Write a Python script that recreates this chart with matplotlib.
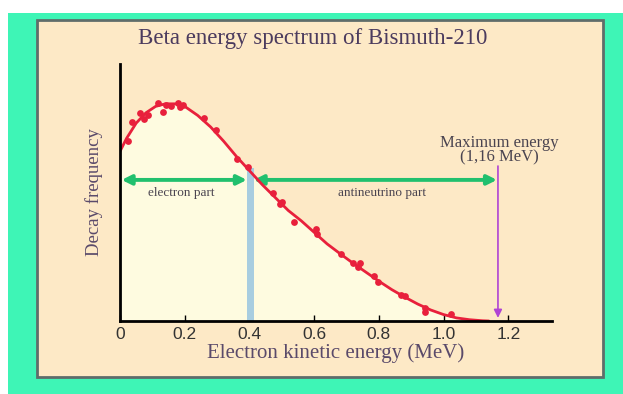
import matplotlib
matplotlib.use("Agg")
import matplotlib.pyplot as plt
from matplotlib.patches import Rectangle

# measured points (MeV, relative frequency)
pts_x = [0.025, 0.038, 0.061, 0.074, 0.087, 0.118, 0.133, 0.142, 0.157, 0.178,
         0.184, 0.196, 0.259, 0.296, 0.362, 0.397, 0.474, 0.501, 0.495, 0.538,
         0.605, 0.608, 0.683, 0.720, 0.741, 0.734, 0.784, 0.796, 0.867, 0.882,
         0.943, 0.941, 1.023]
pts_y = [0.700, 0.775, 0.808, 0.786, 0.800, 0.847, 0.815, 0.840, 0.837, 0.847,
         0.834, 0.840, 0.789, 0.743, 0.629, 0.600, 0.499, 0.464, 0.455, 0.386,
         0.358, 0.339, 0.261, 0.227, 0.224, 0.209, 0.175, 0.153, 0.101, 0.097,
         0.049, 0.036, 0.027]

# fitted curve
curve_x = [0.0, 0.02, 0.05, 0.08, 0.11, 0.14, 0.17, 0.20, 0.24, 0.28, 0.32,
           0.36, 0.40, 0.44, 0.48, 0.52, 0.56, 0.60, 0.64, 0.68, 0.72, 0.76,
           0.80, 0.84, 0.88, 0.92, 0.96, 1.00, 1.04, 1.08, 1.12, 1.14]
curve_y = [0.660, 0.710, 0.770, 0.810, 0.835, 0.845, 0.845, 0.835, 0.800,
           0.755, 0.700, 0.640, 0.585, 0.530, 0.480, 0.430, 0.390, 0.345,
           0.300, 0.262, 0.225, 0.190, 0.155, 0.122, 0.093, 0.066, 0.043,
           0.025, 0.012, 0.005, 0.001, 0.0]

xticks = [0, 0.2, 0.4, 0.6, 0.8, 1.0, 1.2]
xticklabels = ["0", "0.2", "0.4", "0.6", "0.8", "1.0", "1.2"]
e_split = 0.40     # electron / antineutrino split
e_max = 1.168      # maximum energy marker

W, H = 623, 394
serif = ["Liberation Serif", "DejaVu Serif"]
fig = plt.figure(figsize=(W / 100, H / 100), dpi=100, facecolor="white")

# green frame and beige panel, on a background axes
bg = fig.add_axes([0, 0, 1, 1], zorder=-1)
bg.set_xlim(0, W)
bg.set_ylim(H, 0)
bg.axis("off")
bg.add_patch(Rectangle((8, 13), W - 8, H - 13, facecolor="#3ef5b6", edgecolor="none"))
bg.add_patch(Rectangle((37, 20), 566, 357, facecolor="#fde9c6", edgecolor="#5f6d6a",
                       linewidth=2))
bg.text(313, 38, "Beta energy spectrum of Bismuth-210", family=serif, fontsize=16.5,
        color="#4b3b5e", ha="center", va="center")

ax = fig.add_axes([120 / W, 1 - 321 / H, 432 / W, 257 / H])
ax.set_facecolor("none")
ax.set_xlim(0, 1.335)
ax.set_ylim(0, 1)

ax.fill_between(curve_x, curve_y, 0, color="#fefbe0", lw=0, zorder=1)
ax.add_patch(Rectangle((e_split - 0.007, 0), 0.02, 0.594, facecolor="#a8cde0",
                       edgecolor="none", zorder=2))
ax.plot(curve_x, curve_y, color="#e8203c", lw=2, zorder=4, solid_capstyle="round")
ax.scatter(pts_x, pts_y, s=24, color="#e8203c", zorder=5, linewidths=0)

green = "#21c06e"
ax.annotate("", xy=(0.005, 0.549), xytext=(0.392, 0.549),
            arrowprops=dict(arrowstyle="<|-|>", color=green, lw=2.8, mutation_scale=14,
                            shrinkA=0, shrinkB=0), zorder=3)
ax.annotate("", xy=(0.413, 0.549), xytext=(e_max - 0.003, 0.549),
            arrowprops=dict(arrowstyle="<|-|>", color=green, lw=2.8, mutation_scale=14,
                            shrinkA=0, shrinkB=0), zorder=3)
ax.annotate("", xy=(e_max, 0.012), xytext=(e_max, 0.603),
            arrowprops=dict(arrowstyle="-|>", color="#b044d4", lw=1.2, mutation_scale=12,
                            shrinkA=0, shrinkB=0), zorder=3)

ax.text(0.19, 0.50, "electron part", family=serif, fontsize=9.5, color="#4a4450",
        ha="center", va="center")
ax.text(0.81, 0.50, "antineutrino part", family=serif, fontsize=9.5, color="#4a4450",
        ha="center", va="center")
ax.text(e_max + 0.005, 0.665, "Maximum energy\n(1,16 MeV)", family=serif, fontsize=12,
        color="#4a4450", ha="center", va="center", linespacing=0.85)

for s in ["top", "right"]:
    ax.spines[s].set_visible(False)
for s in ["left", "bottom"]:
    ax.spines[s].set_linewidth(2)
    ax.spines[s].set_color("black")
    ax.spines[s].set_zorder(6)

ax.set_yticks([])
ax.set_xticks(xticks)
ax.set_xticklabels(xticklabels, family=["Liberation Sans", "DejaVu Sans"], fontsize=12.5,
                   color="#333333")
ax.tick_params(axis="x", direction="in", length=4, width=1, color="black", pad=4)

ax.set_xlabel("Electron kinetic energy (MeV)", family=serif, fontsize=15,
              color="#5a4a6a", labelpad=1)
ax.set_ylabel("Decay frequency", family=serif, fontsize=13.5, color="#5a4a6a", labelpad=12)

fig.savefig("out.png", dpi=100, facecolor=fig.get_facecolor())
